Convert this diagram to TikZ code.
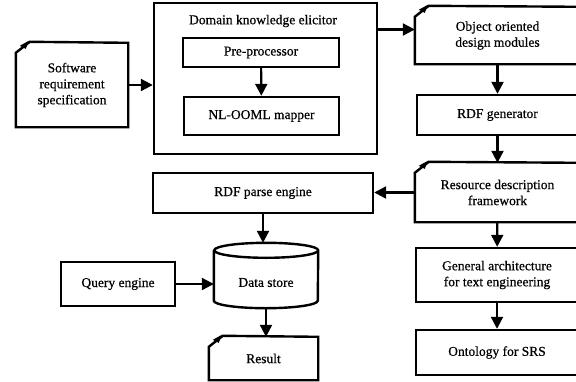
\documentclass[tikz,border=0pt]{standalone}
\usepackage{fontspec}
\setmainfont{Liberation Serif}[UprightFeatures={FakeBold=0.6}]
\usetikzlibrary{shapes.geometric,arrows.meta}

\tikzset{
  box/.style={draw, line width=2.4pt, align=center, inner sep=2pt},
  docbox/.style={align=center, inner sep=2pt},
  arr/.style={line width=2.2pt, -{Triangle[length=12pt,width=12pt]}},
}
% outline of a box with a curled top left corner
\newcommand{\pagecurl}[1]{%
  \draw[line width=2.4pt] ([yshift=-10pt]#1.north west) -- (#1.south west) -- (#1.south east)
    -- (#1.north east) -- ([xshift=14pt,yshift=1pt]#1.north west) -- cycle;
  \fill ([xshift=4pt,yshift=-3pt]#1.north west) -- ([xshift=13pt,yshift=2pt]#1.north west)
    -- ([xshift=10pt,yshift=-6pt]#1.north west) -- cycle;}

\begin{document}
\begin{tikzpicture}[x=1pt,y=-1pt,font=\fontsize{13.5}{16}\selectfont]
  \useasboundingbox (0,0) rectangle (576,381);

  % left part
  \node[docbox, minimum width=112pt, minimum height=84pt] (srs) at (72,85)
    {Software\\requirement\\specification};
  \pagecurl{srs}

  \node[box, minimum width=223pt, minimum height=151pt] (dke) at (265.5,78.5) {};
  \node (dketitle) at (263,21) {Domain knowledge elicitor};
  \node[box, minimum width=156pt, minimum height=29pt] (pre) at (261,52.5) {Pre-processor};
  \node[box, minimum width=155pt, minimum height=38pt] (nlm) at (261.5,116) {NL-OOML mapper};

  % right column
  \node[docbox, minimum width=165pt, minimum height=57pt] (ood) at (497.5,35.5)
    {Object oriented\\design modules};
  \pagecurl{ood}
  \node[box, minimum width=161pt, minimum height=40pt] (rdfg) at (497.5,115) {RDF generator};
  \node[docbox, minimum width=165pt, minimum height=59pt] (rdff) at (497.5,192.5)
    {Resource description\\framework};
  \pagecurl{rdff}
  \node[box, minimum width=162pt, minimum height=54pt] (gate) at (497,275)
    {General architecture\\for text engineering};
  \node[box, minimum width=162pt, minimum height=45pt] (onto) at (497,352.5) {Ontology for SRS};

  % storage part
  \node[box, minimum width=220pt, minimum height=40pt] (rdfp) at (263,193) {RDF parse engine};
  \node[docbox, minimum width=104pt, minimum height=65pt] (ds) at (266,275.5) {};
  \node at ([yshift=-7pt]ds.center) {Data store};
  \draw[line width=2.4pt] ([yshift=-7.5pt]ds.north west) -- ([yshift=7.5pt]ds.south west)
    arc[start angle=180, end angle=360, x radius=52pt, y radius=7.5pt]
    -- ([yshift=-7.5pt]ds.north east)
    arc[start angle=0, end angle=180, x radius=52pt, y radius=7.5pt]
    arc[start angle=180, end angle=360, x radius=52pt, y radius=7.5pt];
  \node[box, minimum width=114pt, minimum height=44pt] (qe) at (118,284) {Query engine};
  \node[docbox, minimum width=109pt, minimum height=43pt] (res) at (263.5,358.5) {Result};
  \pagecurl{res}

  \coordinate (oodin) at ([yshift=6pt]ood.west);

  \draw[arr] (srs.east) -- (srs.east -| dke.west);
  \draw[arr] (pre) -- (nlm);
  \draw[arr] (dke.east |- oodin) -- (oodin);
  \draw[arr] (ood) -- (rdfg);
  \draw[arr] (rdfg) -- (rdff);
  \draw[arr] (rdff) -- (gate);
  \draw[arr] (gate) -- (onto);
  \draw[arr] (rdff.west) -- (rdff.west -| rdfp.east);
  \draw[arr] (rdfp.south) -- (rdfp.south |- ds.north);
  \draw[arr] (qe.east) -- (qe.east -| ds.west);
  \draw[arr] (ds.south) -- (ds.south |- res.north);
\end{tikzpicture}
\end{document}
